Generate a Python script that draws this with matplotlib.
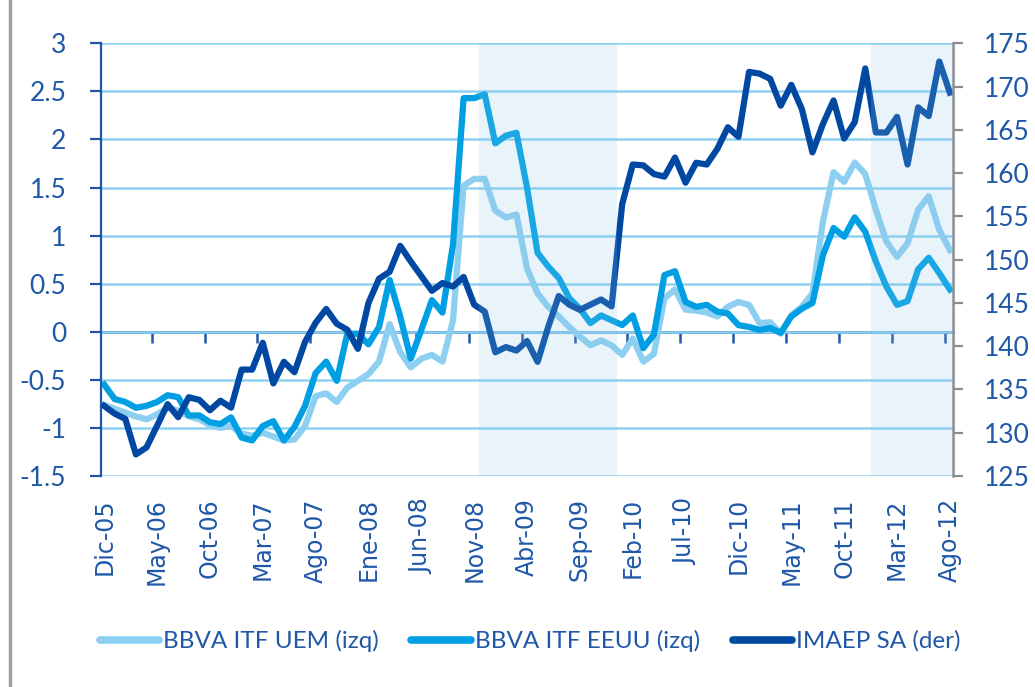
import numpy as np
import matplotlib
matplotlib.use("Agg")
import matplotlib.pyplot as plt
from matplotlib.lines import Line2D

plt.rcParams['font.family'] = ['Lato', 'DejaVu Sans']

# Meses en castellano, serie mensual Dic-05 .. Ago-12
meses = ['Ene', 'Feb', 'Mar', 'Abr', 'May', 'Jun', 'Jul', 'Ago', 'Sep', 'Oct', 'Nov', 'Dic']
fechas = [f"{meses[(11 + i) % 12]}-{5 + (11 + i) // 12:02d}" for i in range(81)]

# BBVA ITF UEM (eje izquierdo)
itf_uem = [-0.76, -0.80, -0.84, -0.88, -0.91, -0.86, -0.79, -0.82, -0.88, -0.91,
           -0.97, -1.00, -0.98, -1.06, -1.08, -1.05, -1.09, -1.13, -1.12, -0.98,
           -0.67, -0.64, -0.73, -0.58, -0.51, -0.44, -0.31, 0.08, -0.21, -0.37,
           -0.28, -0.24, -0.31, 0.12, 1.52, 1.59, 1.59, 1.26, 1.19, 1.22,
           0.66, 0.40, 0.26, 0.16, 0.05, -0.05, -0.14, -0.09, -0.14, -0.24,
           -0.07, -0.31, -0.23, 0.35, 0.44, 0.23, 0.22, 0.20, 0.16, 0.26,
           0.31, 0.28, 0.09, 0.10, -0.02, 0.17, 0.26, 0.40, 1.15, 1.66,
           1.56, 1.76, 1.64, 1.27, 0.94, 0.78, 0.92, 1.27, 1.41, 1.06,
           0.85]

# BBVA ITF EEUU (eje izquierdo)
itf_eeuu = [-0.55, -0.70, -0.73, -0.79, -0.77, -0.73, -0.66, -0.68, -0.87, -0.87,
            -0.94, -0.96, -0.89, -1.10, -1.13, -0.98, -0.93, -1.13, -0.99, -0.77,
            -0.43, -0.31, -0.51, -0.02, -0.02, -0.13, 0.05, 0.54, 0.16, -0.28,
            0.02, 0.33, 0.20, 0.91, 2.43, 2.43, 2.47, 1.96, 2.04, 2.07,
            1.50, 0.82, 0.68, 0.56, 0.35, 0.24, 0.09, 0.17, 0.12, 0.07,
            0.17, -0.17, -0.03, 0.59, 0.63, 0.31, 0.26, 0.28, 0.21, 0.19,
            0.07, 0.05, 0.02, 0.04, -0.01, 0.16, 0.24, 0.30, 0.80, 1.08,
            0.99, 1.19, 1.04, 0.73, 0.47, 0.28, 0.32, 0.65, 0.77, 0.61,
            0.44]

# IMAEP SA (eje derecho)
imaep = [133.1, 132.2, 131.6, 127.5, 128.3, 130.8, 133.3, 131.8, 134.1, 133.8,
         132.6, 133.7, 132.9, 137.3, 137.3, 140.4, 135.7, 138.2, 137.0, 140.5,
         142.7, 144.3, 142.6, 141.9, 139.7, 145.0, 147.8, 148.6, 151.6, 149.8,
         148.1, 146.4, 147.3, 146.9, 148.0, 144.8, 144.0, 139.3, 139.9, 139.5,
         140.6, 138.2, 142.2, 145.8, 144.8, 144.2, 144.8, 145.4, 144.6, 156.4,
         161.0, 160.9, 159.9, 159.6, 161.8, 158.9, 161.2, 161.0, 162.8, 165.3,
         164.2, 171.7, 171.5, 170.9, 167.8, 170.2, 167.4, 162.4, 165.7, 168.4,
         164.0, 165.9, 172.1, 164.7, 164.7, 166.5, 161.0, 167.6, 166.6, 172.9,
         169.3]

# Periodos sombreados
sombra_inicio = ['Dic-08', 'Ene-12']
sombra_fin = ['Dic-09', 'Ago-12']

azul_txt = '#1F58A8'
c_uem = '#8CCFF0'
c_eeuu = '#009FE3'
c_imaep = '#0048A1'

x = np.arange(len(fechas))

fig = plt.figure(figsize=(10.35, 6.87), dpi=100)
ax = fig.add_axes([0.0976, 0.3071, 0.8232, 0.6298])

ax.set_xlim(-0.3, 80.3)
ax.set_ylim(-1.5, 3)
yt = np.arange(-1.5, 3.01, 0.5)
ax.set_yticks(yt)
ax.set_yticklabels([f"{v:g}" for v in yt])
ax.yaxis.grid(True, color='#8ED2F2', lw=1.8)
ax.set_axisbelow(True)

for s in ['top', 'bottom', 'right']:
    ax.spines[s].set_visible(False)
ax.spines['left'].set_color(azul_txt)
ax.spines['left'].set_linewidth(1.6)
ax.tick_params(axis='y', direction='out', length=8, width=1.6, color=azul_txt,
               labelsize=19, labelcolor=azul_txt, pad=17)

pos = list(range(0, 81, 5))
ax.set_xticks(pos)
ax.set_xticklabels([fechas[i] for i in pos], rotation=90, family='DejaVu Sans',
                   fontsize=17, color=azul_txt)
ax.tick_params(axis='x', length=0, pad=16)

ax.plot(x, itf_uem, color=c_uem, lw=4.5)
ax.plot(x, itf_eeuu, color=c_eeuu, lw=4.5)

# eje de categorias en el cero
sec = ax.secondary_xaxis(1 / 3)
sec.set_xticks(np.arange(4.5, 80, 5))
sec.tick_params(direction='out', length=8, width=1.8, color=azul_txt,
                labelbottom=False, labeltop=False)
sec.spines['bottom'].set_color(azul_txt)
sec.spines['bottom'].set_linewidth(2)

ax2 = ax.twinx()
ax2.set_ylim(125, 175)
ax2.set_yticks(np.arange(125, 176, 5))
for s in ['top', 'bottom', 'left']:
    ax2.spines[s].set_visible(False)
ax2.spines['right'].set_color('#8C8C8C')
ax2.spines['right'].set_linewidth(1.8)
ax2.tick_params(axis='y', direction='out', length=7, width=1.6, color='#8C8C8C',
                labelsize=19, labelcolor=azul_txt, pad=15)
ax2.plot(x, imaep, color=c_imaep, lw=4.5)

for a, b in zip(sombra_inicio, sombra_fin):
    ax2.axvspan(fechas.index(a) - 0.5, fechas.index(b) + 0.5, color='#8CC4EA',
                alpha=0.2, lw=0, zorder=10)

handles = [Line2D([], [], color=c, lw=5.5, solid_capstyle='round')
           for c in [c_uem, c_eeuu, c_imaep]]
fig.legend(handles, ['BBVA ITF UEM (izq)', 'BBVA ITF EEUU (izq)', 'IMAEP SA (der)'],
           loc='center', bbox_to_anchor=(0.512, 0.067), ncol=3, frameon=False,
           fontsize=17.5, handlelength=2.45, handletextpad=0.15, columnspacing=1.35,
           labelcolor=azul_txt)

fig.add_artist(Line2D([0.0097, 0.0097], [0, 1], color='#A0A0A0', lw=2.5,
                      transform=fig.transFigure))

fig.savefig('out.png', dpi=100)
